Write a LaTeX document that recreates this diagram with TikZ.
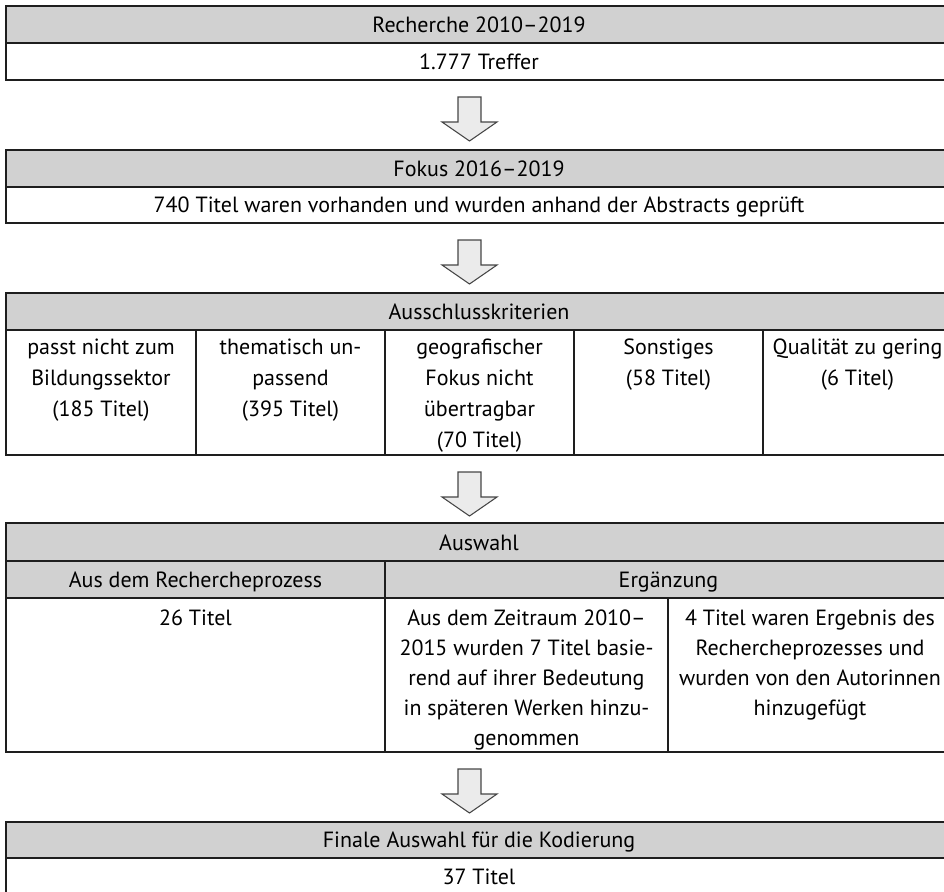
\documentclass[tikz,border=0pt]{standalone}
\usepackage{fontspec}
\setmainfont{PT Sans}
\definecolor{headgray}{RGB}{209,209,209}
\definecolor{arrowfill}{RGB}{235,235,235}
\definecolor{arrowline}{RGB}{70,70,70}
\definecolor{rulecol}{RGB}{30,30,30}
\newcommand\flowarrow[1]{%
  \draw[downarrow] (#1) +(-11.5,0) -- +(11.5,0) -- +(11.5,25) -- +(27.5,25)
    -- +(0,44) -- +(-27.5,25) -- +(-11.5,25) -- cycle;}
\begin{document}
\begin{tikzpicture}[x=0.75pt,y=-0.75pt,
  frame/.style={draw=rulecol, line width=1pt},
  head/.style={frame, fill=headgray},
  txt/.style={font=\fontsize{16.5}{22.5}\selectfont, inner sep=0pt, align=center, anchor=base},
  mtxt/.style={font=\fontsize{16.5}{22.5}\selectfont, inner sep=0pt, align=center, anchor=north},
  wide/.style={font=\fontsize{16.5}{23.4}\selectfont},
  downarrow/.style={draw=arrowline, fill=arrowfill, line width=0.8pt, line join=miter}]

\useasboundingbox (0,0) rectangle (944,891);

% --- search ---
\draw[head]  (6,6)  rectangle (952,43);
\draw[frame] (6,43) rectangle (952,80);
\node[txt] (b1h) at (479,32.5) {Recherche 2010–2019};
\node[txt] (b1t) at (479,69.5) {1.777 Treffer};

% --- focus ---
\draw[head]  (6,150) rectangle (952,187);
\draw[frame] (6,187) rectangle (952,223);
\node[txt] (b2h) at (479,176.5) {Fokus 2016–2019};
\node[txt] (b2t) at (479,213) {740 Titel waren vorhanden und wurden anhand der Abstracts geprüft};

% --- exclusion criteria ---
\draw[head]  (6,293) rectangle (952,330);
\draw[frame] (6,330) rectangle (952,455);
\foreach \x in {196,385,574,763} \draw[frame] (\x,330) -- (\x,455);
\node[txt] (b3h) at (479,319.5) {Ausschlusskriterien};
\node[mtxt,wide] (k1) at (101,332)   {\strut passt nicht zum\\Bildungssektor\\(185 Titel)};
\node[mtxt,wide] (k2) at (290.5,332) {\strut thematisch un-\\passend\\(395 Titel)};
\node[mtxt,wide] (k3) at (479.5,332) {\strut geografischer\\Fokus nicht\\übertragbar\\(70 Titel)};
\node[mtxt,wide] (k4) at (668.5,332) {\strut Sonstiges\\(58 Titel)};
\node[mtxt,wide] (k5) at (857.5,332) {\strut Qualität zu gering\\(6 Titel)};

% --- selection ---
\draw[head]  (6,523) rectangle (952,561);
\draw[head]  (6,561) rectangle (952,598);
\draw[frame] (385,561) -- (385,598);
\draw[frame] (6,598) rectangle (952,752);
\draw[frame] (385,598) -- (385,752);
\draw[frame] (668,598) -- (668,752);
\node[txt] (b4h) at (479,550) {Auswahl};
\node[txt] (s1h) at (195.5,587) {Aus dem Rechercheprozess};
\node[txt] (s2h) at (668.5,587) {Ergänzung};
\node[mtxt] (s1) at (195.5,604) {\strut 26 Titel};
\node[mtxt] (s2) at (526.5,604) {\strut Aus dem Zeitraum 2010–\\2015 wurden 7 Titel basie-\\rend auf ihrer Bedeutung\\in späteren Werken hinzu-\\genommen};
\node[mtxt] (s3) at (810,604) {\strut 4 Titel waren Ergebnis des\\Rechercheprozesses und\\wurden von den Autorinnen\\hinzugefügt};

% --- final selection ---
\draw[head]  (6,822) rectangle (952,858);
\draw[frame] (6,858) rectangle (952,895);
\node[txt] (b5h) at (479,847.5) {Finale Auswahl für die Kodierung};
\node[txt] (b5t) at (479,884) {37 Titel};

% --- arrows between the stages ---
\coordinate (a1) at (469.5,97);
\coordinate (a2) at (469.5,240);
\coordinate (a3) at (469.5,472);
\coordinate (a4) at (469.5,769);
\flowarrow{a1}
\flowarrow{a2}
\flowarrow{a3}
\flowarrow{a4}
\end{tikzpicture}
\end{document}
